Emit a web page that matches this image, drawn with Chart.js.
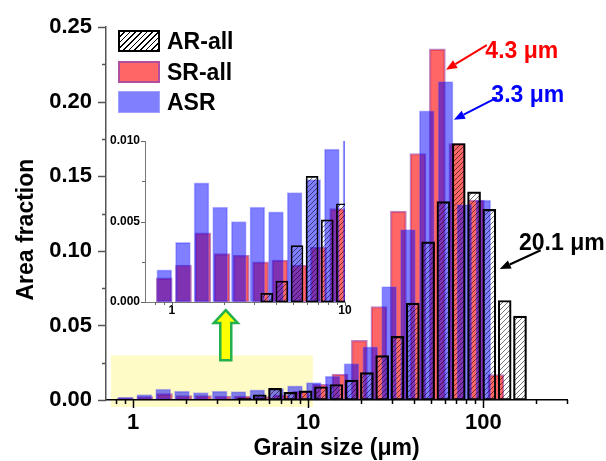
<!DOCTYPE html>
<html lang="en">
<head>
    <meta charset="UTF-8">
    <meta name="viewport" content="width=device-width, initial-scale=1.0">
    <title>Grain size distribution</title>
    <script src="https://cdn.jsdelivr.net/npm/chart.js@4.4.1/dist/chart.umd.min.js"></script>
    <style>
        * {
            margin: 0;
            padding: 0;
            box-sizing: border-box;
        }

        body {
            width: 606px;
            height: 461px;
            background: #fff;
            overflow: hidden;
            position: relative;
            font-family: "Liberation Sans", Arial, sans-serif;
        }

        #mainChart { position: absolute; left: 0; top: 0; }
        #insetChart { position: absolute; left: 100px; top: 125px; }

        .legend {
            position: absolute;
            left: 118px;
            top: 30px;
        }

        .legend-row {
            display: flex;
            align-items: center;
            height: 22px;
            margin-bottom: 8.5px;
        }

        .legend-box {
            width: 42px;
            height: 22px;
            margin-right: 7px;
        }

        .legend-text {
            font-size: 23px;
            font-weight: bold;
            color: #000;
            line-height: 22px;
        }

        .note {
            position: absolute;
            font-size: 23px;
            font-weight: bold;
            line-height: 1;
            white-space: nowrap;
            transform: translate(-50%, -50%);
        }
    </style>
</head>
<body>

    <canvas id="mainChart" width="606" height="461"></canvas>
    <canvas id="insetChart" width="260" height="200"></canvas>
    <div class="legend" id="legend"></div>

    <script>
        // series names (legend order)
        const seriesNames = ['AR-all', 'SR-all', 'ASR'];

        // AR-all: bin centre (um) and area fraction
        const arSize = [3.532, 4.319, 5.283, 6.460, 7.900, 9.661, 11.81, 14.45, 17.67, 21.61,
                        26.42, 32.31, 39.52, 48.33, 59.10, 72.28, 88.40, 108.1, 132.2, 161.7];
        const arFraction = [0.00054, 0.0013, 0.0035, 0.0078, 0.0051, 0.0061, 0.0089, 0.0104, 0.0133, 0.0184,
                            0.0298, 0.0427, 0.0650, 0.1060, 0.1330, 0.1720, 0.1396, 0.1278, 0.0667, 0.0562];

        // SR-all
        const srSize = [0.904, 1.168, 1.510, 1.951, 2.520, 3.257, 4.208, 5.438, 7.026, 9.078,
                        11.73, 15.16, 19.58, 25.30, 32.69, 42.24, 54.58, 70.53, 91.12, 117.8];
        const srFraction = [0.0015, 0.0023, 0.0043, 0.0030, 0.0029, 0.0025, 0.0026, 0.0023, 0.0034, 0.0058,
                            0.0105, 0.0173, 0.0400, 0.0627, 0.1267, 0.1653, 0.2355, 0.1720, 0.1340, 0.0170];

        // ASR
        const asrSize = [0.905, 1.159, 1.484, 1.901, 2.435, 3.119, 3.995, 5.117, 6.554, 8.395,
                         10.75, 13.77, 17.64, 22.59, 28.94, 37.07, 47.48, 60.81, 77.89, 99.77];
        const asrFraction = [0.0020, 0.0037, 0.0074, 0.0059, 0.0050, 0.0059, 0.0056, 0.0068, 0.0076, 0.0095,
                             0.0116, 0.0160, 0.0245, 0.0356, 0.0760, 0.1143, 0.1940, 0.2135, 0.1310, 0.1340];

        // main axes ticks
        const xMajorTicks = [1, 10, 100];
        const xMinorTicks = [0.8, 0.9, 2, 3, 4, 5, 6, 7, 8, 9, 20, 30, 40, 50, 60, 70, 80, 90, 200, 300];
        const yMajorTicks = [0, 0.05, 0.10, 0.15, 0.20, 0.25];
        const yMinorTicks = [0.025, 0.075, 0.125, 0.175, 0.225];

        // inset axes ticks
        const insetXMajorTicks = [1, 10];
        const insetXMinorTicks = [0.8, 0.9, 2, 3, 4, 5, 6, 7, 8, 9];
        const insetYMajorTicks = [0, 0.005, 0.010];
        const insetYMinorTicks = [0.0025, 0.0075];

        // peak labels with arrows (data coordinates of the main chart)
        const peakNotes = [
            { text: '4.3 μm', color: '#ff0000', label: [165.6, 0.2347], tail: [104.5, 0.238], tip: [61.1, 0.2214] },
            { text: '3.3 μm', color: '#0000ff', label: [179.2, 0.2055], tail: [119.4, 0.2028], tip: [67.8, 0.188] },
            { text: '20.1 μm', color: '#000000', label: [280.5, 0.1057], tail: [212.3, 0.1004], tip: [123.9, 0.0878] }
        ];

        // zoomed region and pointer to the inset
        const highlightBox = { xMin: 0.747, xMax: 10.62, yMin: -0.00465, yMax: 0.0299 };
        const zoomArrow = { x: 3.38, tip: 0.0603, base: 0.0266 };

        Chart.defaults.font.family = '"Liberation Sans", Arial, sans-serif';
        Chart.defaults.color = '#000';

        function makeHatch() {
            const c = document.createElement('canvas');
            c.width = 5; c.height = 5;
            const g = c.getContext('2d');
            g.strokeStyle = 'rgba(0,0,0,0.6)';
            g.lineWidth = 0.9;
            g.beginPath();
            g.moveTo(0, 5); g.lineTo(5, 0);
            g.moveTo(-1, 1); g.lineTo(1, -1);
            g.moveTo(4, 6); g.lineTo(6, 4);
            g.stroke();
            return g.createPattern(c, 'repeat');
        }
        const hatch = makeHatch();

        function toPoints(xs, ys) {
            return xs.map((x, i) => ({ x: x, y: ys[i] }));
        }

        // widths: [AR, SR, ASR] bar thickness in px
        function buildDatasets(widths, clip, arBorder) {
            const common = { grouped: false, borderSkipped: false, clip: clip };
            return [
                Object.assign({
                    label: seriesNames[0],
                    data: toPoints(arSize, arFraction),
                    backgroundColor: hatch,
                    borderColor: '#000',
                    borderWidth: arBorder,
                    barThickness: widths[0],
                    order: 0
                }, common),
                Object.assign({
                    label: seriesNames[1],
                    data: toPoints(srSize, srFraction),
                    backgroundColor: 'rgba(255, 0, 0, 0.6)',
                    borderColor: 'rgba(140, 30, 140, 0.55)',
                    borderWidth: 1.5,
                    barThickness: widths[1],
                    order: 2
                }, common),
                Object.assign({
                    label: seriesNames[2],
                    data: toPoints(asrSize, asrFraction),
                    backgroundColor: 'rgba(0, 0, 255, 0.5)',
                    borderColor: 'rgba(70, 70, 255, 0.35)',
                    borderWidth: 1,
                    barThickness: widths[2],
                    order: 1
                }, common)
            ];
        }

        // outward tick marks, majors longer than minors
        const tickMarks = {
            id: 'tickMarks',
            afterDraw(chart, args, o) {
                const { ctx, chartArea: a, scales: { x, y } } = chart;
                ctx.save();
                ctx.lineWidth = o.width;
                ctx.strokeStyle = o.xColor;
                ctx.beginPath();
                const xTick = (v, len) => {
                    const p = Math.round(x.getPixelForValue(v)) + 0.5;
                    ctx.moveTo(p, a.bottom);
                    ctx.lineTo(p, a.bottom + len);
                };
                o.xMajor.forEach(v => xTick(v, o.major));
                o.xMinor.forEach(v => xTick(v, o.minor));
                ctx.stroke();
                ctx.strokeStyle = o.yColor;
                ctx.beginPath();
                const yTick = (v, len) => {
                    const p = Math.round(y.getPixelForValue(v)) + 0.5;
                    ctx.moveTo(a.left, p);
                    ctx.lineTo(a.left - len, p);
                };
                o.yMajor.forEach(v => yTick(v, o.major));
                o.yMinor.forEach(v => yTick(v, o.minor));
                ctx.stroke();
                ctx.restore();
            }
        };

        function drawArrow(ctx, x1, y1, x2, y2, color) {
            const ang = Math.atan2(y2 - y1, x2 - x1);
            const head = 11, half = 4.5;
            const bx = x2 - head * Math.cos(ang), by = y2 - head * Math.sin(ang);
            ctx.strokeStyle = color;
            ctx.fillStyle = color;
            ctx.lineWidth = 2;
            ctx.beginPath();
            ctx.moveTo(x1, y1);
            ctx.lineTo(bx, by);
            ctx.stroke();
            ctx.beginPath();
            ctx.moveTo(x2, y2);
            ctx.lineTo(bx + half * Math.sin(ang), by - half * Math.cos(ang));
            ctx.lineTo(bx - half * Math.sin(ang), by + half * Math.cos(ang));
            ctx.closePath();
            ctx.fill();
        }

        const decorations = {
            id: 'decorations',
            beforeDraw(chart) {
                const { ctx, scales: { x, y } } = chart;
                const x0 = x.getPixelForValue(highlightBox.xMin), x1 = x.getPixelForValue(highlightBox.xMax);
                const y0 = y.getPixelForValue(highlightBox.yMax), y1 = y.getPixelForValue(highlightBox.yMin);
                ctx.save();
                ctx.fillStyle = '#fffbc6';
                ctx.fillRect(x0, y0, x1 - x0, y1 - y0);
                ctx.restore();
            },
            afterDatasetsDraw(chart) {
                const { ctx, scales: { x, y } } = chart;
                ctx.save();
                // green block arrow pointing at the inset
                const cx = x.getPixelForValue(zoomArrow.x);
                const ty = y.getPixelForValue(zoomArrow.tip);
                const by = y.getPixelForValue(zoomArrow.base);
                const hb = ty + 13;
                ctx.beginPath();
                ctx.moveTo(cx, ty);
                ctx.lineTo(cx + 12, hb);
                ctx.lineTo(cx + 5.5, hb);
                ctx.lineTo(cx + 5.5, by);
                ctx.lineTo(cx - 5.5, by);
                ctx.lineTo(cx - 5.5, hb);
                ctx.lineTo(cx - 12, hb);
                ctx.closePath();
                ctx.fillStyle = '#ffff00';
                ctx.fill();
                ctx.lineWidth = 2.5;
                ctx.strokeStyle = '#22b14c';
                ctx.stroke();
                // peak arrows
                peakNotes.forEach(n => {
                    drawArrow(ctx,
                        x.getPixelForValue(n.tail[0]), y.getPixelForValue(n.tail[1]),
                        x.getPixelForValue(n.tip[0]), y.getPixelForValue(n.tip[1]), n.color);
                });
                ctx.restore();
            },
            afterDraw(chart) {
                const { ctx, chartArea: a } = chart;
                ctx.save();
                ctx.translate(27, (a.top + a.bottom) / 2 + 16);
                ctx.rotate(-Math.PI / 2);
                ctx.font = 'bold 23px "Liberation Sans", Arial, sans-serif';
                ctx.fillStyle = '#000';
                ctx.textAlign = 'center';
                ctx.textBaseline = 'middle';
                ctx.fillText('Area fraction', 0, 0);
                ctx.restore();
            }
        };

        const mainFont = { size: 22, weight: 'bold' };

        const mainChart = new Chart(document.getElementById('mainChart'), {
            type: 'bar',
            data: { datasets: buildDatasets([13, 16, 15], false, 1.5) },
            options: {
                responsive: false,
                animation: false,
                devicePixelRatio: 1,
                layout: { padding: { left: 0, right: 39, top: 24, bottom: 0 } },
                plugins: {
                    legend: { display: false },
                    tooltip: { enabled: false },
                    tickMarks: {
                        xMajor: xMajorTicks, xMinor: xMinorTicks,
                        yMajor: yMajorTicks, yMinor: yMinorTicks,
                        major: 8, minor: 4, width: 1.5,
                        xColor: '#000', yColor: '#555'
                    }
                },
                scales: {
                    x: {
                        type: 'logarithmic',
                        min: 0.7,
                        max: 300,
                        grid: { display: false, drawTicks: false },
                        border: { display: true, color: '#000', width: 1.5, z: 1 },
                        afterBuildTicks: s => { s.ticks = xMajorTicks.map(v => ({ value: v })); },
                        afterFit: s => { s.height = 61; },
                        ticks: {
                            autoSkip: false,
                            maxRotation: 0,
                            padding: 10,
                            color: '#000',
                            font: mainFont,
                            callback: v => String(v)
                        },
                        title: {
                            display: true,
                            text: 'Grain size (μm)',
                            color: '#000',
                            font: { size: 23, weight: 'bold', lineHeight: 1 },
                            padding: { top: 0, bottom: 1 }
                        }
                    },
                    y: {
                        min: 0,
                        max: 0.25,
                        grid: { display: false, drawTicks: false },
                        border: { display: true, color: '#555', width: 1.5, z: 1 },
                        afterBuildTicks: s => { s.ticks = yMajorTicks.map(v => ({ value: v })); },
                        afterFit: s => { s.width = 106; },
                        ticks: {
                            autoSkip: false,
                            padding: 14,
                            color: '#000',
                            font: mainFont,
                            callback: v => v.toFixed(2)
                        }
                    }
                }
            },
            plugins: [tickMarks, decorations]
        });

        const insetFont = { size: 12, weight: 'bold' };

        const insetChart = new Chart(document.getElementById('insetChart'), {
            type: 'bar',
            data: { datasets: buildDatasets([12, 16, 15], 0, 1) },
            options: {
                responsive: false,
                animation: false,
                devicePixelRatio: 1,
                layout: { padding: { left: 0, right: 15, top: 16, bottom: 0 } },
                plugins: {
                    legend: { display: false },
                    tooltip: { enabled: false },
                    tickMarks: {
                        xMajor: insetXMajorTicks, xMinor: insetXMinorTicks,
                        yMajor: insetYMajorTicks, yMinor: insetYMinorTicks,
                        major: 4, minor: 3, width: 1,
                        xColor: '#666', yColor: '#666'
                    }
                },
                scales: {
                    x: {
                        type: 'logarithmic',
                        min: 0.7,
                        max: 10,
                        grid: { display: false, drawTicks: false },
                        border: { display: true, color: '#777', width: 1, z: 1 },
                        afterBuildTicks: s => { s.ticks = insetXMajorTicks.map(v => ({ value: v })); },
                        afterFit: s => { s.height = 23; },
                        ticks: {
                            autoSkip: false,
                            maxRotation: 0,
                            padding: 1,
                            color: '#000',
                            font: insetFont,
                            callback: v => String(v)
                        }
                    },
                    y: {
                        min: 0,
                        max: 0.010,
                        grid: { display: false, drawTicks: false },
                        border: { display: true, color: '#777', width: 1, z: 1 },
                        afterBuildTicks: s => { s.ticks = insetYMajorTicks.map(v => ({ value: v })); },
                        afterFit: s => { s.width = 45; },
                        ticks: {
                            autoSkip: false,
                            padding: 5,
                            color: '#000',
                            font: insetFont,
                            callback: v => v.toFixed(3)
                        }
                    }
                }
            },
            plugins: [tickMarks]
        });

        // legend
        const legendSwatch = [
            'background: repeating-linear-gradient(-45deg, #000 0 1px, #fff 1px 4px); border: 2px solid #000;',
            'background: #ff6666; border: 2px solid #b04fa0;',
            'background: #8080ff; border: 1px solid #a0a0ff;'
        ];
        const legend = document.getElementById('legend');
        seriesNames.forEach((name, i) => {
            const row = document.createElement('div');
            row.className = 'legend-row';
            row.innerHTML = '<div class="legend-box" style="' + legendSwatch[i] + '"></div>' +
                            '<div class="legend-text">' + name + '</div>';
            legend.appendChild(row);
        });

        // peak labels
        peakNotes.forEach(n => {
            const el = document.createElement('div');
            el.className = 'note';
            el.textContent = n.text;
            el.style.color = n.color;
            el.style.left = mainChart.scales.x.getPixelForValue(n.label[0]) + 'px';
            el.style.top = mainChart.scales.y.getPixelForValue(n.label[1]) + 'px';
            document.body.appendChild(el);
        });
    </script>

</body>
</html>
